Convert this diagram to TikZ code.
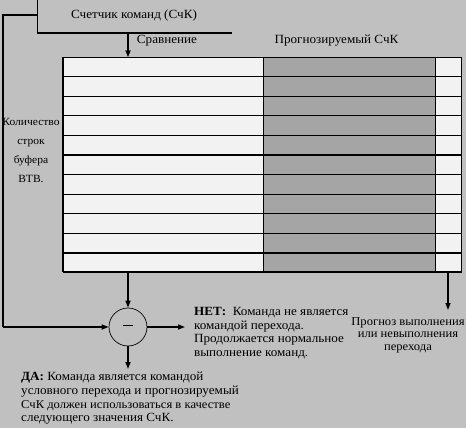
\documentclass[tikz,border=0pt]{standalone}
\usepackage{fontspec}
\setmainfont{Liberation Serif}[FakeStretch=1.05]
\usetikzlibrary{arrows.meta}
\definecolor{bgc}{HTML}{C0C0C0}
\definecolor{cellc}{HTML}{F2F2F2}
\definecolor{shadec}{HTML}{A5A5A5}
\tikzset{
  arr/.style={line width=1.5pt,-{Triangle[length=7pt,width=5pt]}},
  thin line/.style={line width=0.9pt},
  thick row/.style={line width=1.8pt},
  lbl/.style={font=\fontsize{12.5}{13.7}\selectfont,inner sep=0pt},
}
\begin{document}
\begin{tikzpicture}[x=1pt,y=-1pt]
\useasboundingbox (0,0) rectangle (466,428);
\clip (0,0) rectangle (466,428);
\fill[bgc] (0,0) rectangle (466,428);
% counter box
\draw[line width=1.3pt] (37.5,-2) -- (37.5,33) -- (232,33);
\node[lbl] (pc) at (134,15) {Счетчик команд (СчК)};
\coordinate (fb) at (37.5,15);
\coordinate (fbc) at (2.5,15);
\coordinate (boxB) at (128,33);
% labels above table
\node[lbl] (cmpLbl) at (167,41) {Сравнение};
\node[lbl] (predLbl) at (336.5,41) {Прогнозируемый СчК};
% table
\node[draw,thin line,fill=cellc,minimum width=398.5pt,minimum height=215pt,inner sep=0pt,anchor=north west] (tbl) at (62.5,57.3) {};
\fill[shadec] (263,57.3) rectangle (435,272.3);
\draw[thin line] (263,57.3) -- (263,272.3);
\draw[thin line] (435,57.3) -- (435,272.3);
\foreach \i in {1,2,3,4,6,7,8,9}{
  \draw[thin line] (62.5,57.3+\i*19.545) -- (461,57.3+\i*19.545);
}
\foreach \i in {5,10}{
  \draw[thick row] (62.5,57.3+\i*19.545) -- (461,57.3+\i*19.545);
}
\draw[thick row] (62.5,272.3) -- (461,272.3);
\draw[thick row] (62.5,57.3) -- (62.5,272.3);
\draw[thin line] (62.5,57.3) -- (461,57.3) -- (461,272.3);
% left label
\node[font=\fontsize{11}{19}\selectfont,inner sep=0pt,align=center] (rows) at (31,150) {Количество\\строк\\буфера\\ВТВ.};
% comparator
\node[circle,draw,line width=0.7pt,minimum size=38pt,inner sep=0pt] (cmp) at (128,327) {\rule[2.5pt]{10pt}{0.9pt}};
% connectors
\draw[arr] (boxB) -- (boxB |- tbl.north);
\draw[arr] (tbl.south -| cmp) -- (cmp.north);
\draw[line width=2pt] (fb) -- (fbc) -- (fbc |- cmp);
\draw[arr] (fbc |- cmp) -- (cmp.west);
\coordinate (netEnd) at (185,327);
\draw[arr] (cmp.east) -- (netEnd);
\coordinate (daEnd) at (128,369);
\draw[arr] (cmp.south) -- (daEnd);
\coordinate (prTop) at (448,272.3);
\coordinate (prEnd) at (448,310);
\draw[arr] (prTop) -- (prEnd);
% texts
\node[lbl,anchor=west,align=left] (net) at (194,333) {\textbf{НЕТ:}\ \ Команда не является\\командой перехода.\\Продолжается нормальное\\выполнение команд.};
\node[lbl,align=center,font=\fontsize{12}{12.5}\selectfont] (pred) at (408,335) {Прогноз выполнения\\или невыполнения\\перехода};
\node[lbl,anchor=west,align=left] (da) at (21,398.5) {\textbf{ДА:} Команда является командой\\условного перехода и прогнозируемый\\{\fontsize{12}{13.7}\selectfont СчК должен использоваться в качестве}\\следующего значения СчК.};
\end{tikzpicture}
\end{document}
